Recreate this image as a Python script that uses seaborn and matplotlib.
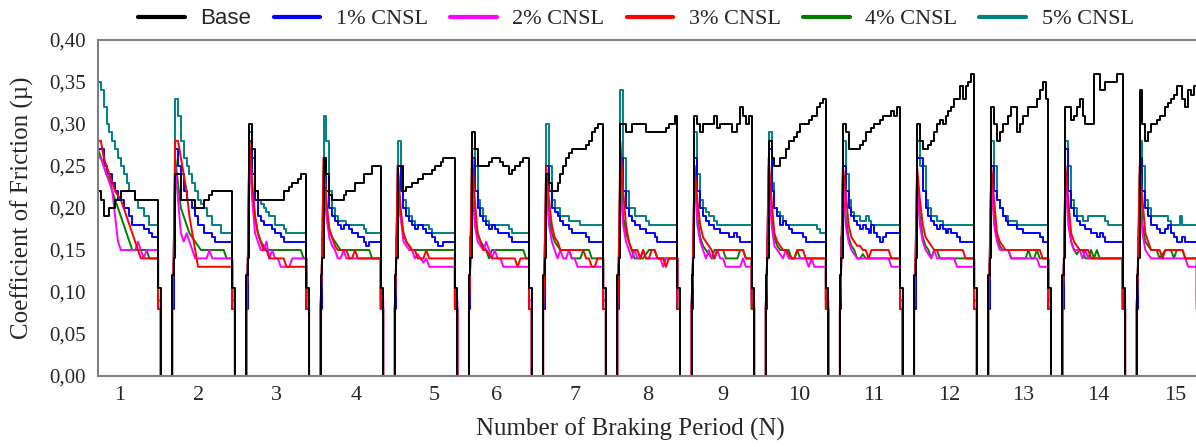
import numpy as np
import matplotlib
matplotlib.use("Agg")
import matplotlib.pyplot as plt
import seaborn as sns
from matplotlib.lines import Line2D

# ---------------- data ----------------
series_names = ["Base", "1% CNSL", "2% CNSL", "3% CNSL", "4% CNSL", "5% CNSL"]
period_labels = [str(i) for i in range(1, 16)]

base_vals = [
    [0.22,0.21,0.19,0.19,0.20,0.20,0.21,0.21,0.22,0.22,0.22,0.22,0.22,0.21,0.21,0.21,0.21,0.21,0.21,0.21],
    [0.24,0.24,0.21,0.21,0.21,0.21,0.21,0.20,0.20,0.20,0.21,0.21,0.215,0.22,0.22,0.22,0.22,0.22,0.22,0.22],
    [0.30,0.27,0.22,0.21,0.21,0.21,0.21,0.21,0.21,0.21,0.21,0.21,0.22,0.22,0.225,0.23,0.23,0.235,0.24,0.24],
    [0.26,0.24,0.215,0.21,0.21,0.21,0.21,0.215,0.22,0.22,0.22,0.23,0.23,0.23,0.24,0.24,0.24,0.25,0.25,0.25],
    [0.25,0.25,0.22,0.225,0.225,0.23,0.23,0.235,0.235,0.24,0.24,0.24,0.245,0.25,0.25,0.255,0.26,0.26,0.26,0.26],
    [0.29,0.27,0.25,0.25,0.25,0.25,0.255,0.26,0.26,0.26,0.255,0.25,0.25,0.24,0.245,0.25,0.25,0.255,0.26,0.26],
    [0.24,0.23,0.22,0.22,0.23,0.24,0.25,0.26,0.265,0.27,0.27,0.27,0.27,0.27,0.275,0.28,0.29,0.295,0.30,0.30],
    [0.30,0.30,0.29,0.29,0.30,0.30,0.30,0.30,0.30,0.29,0.29,0.29,0.29,0.29,0.29,0.29,0.295,0.30,0.30,0.31],
    [0.31,0.30,0.29,0.30,0.30,0.30,0.30,0.31,0.295,0.30,0.30,0.30,0.30,0.29,0.29,0.30,0.32,0.31,0.30,0.31],
    [0.28,0.26,0.25,0.25,0.26,0.26,0.27,0.28,0.28,0.285,0.29,0.30,0.30,0.30,0.305,0.31,0.31,0.32,0.325,0.33],
    [0.30,0.29,0.27,0.27,0.27,0.27,0.275,0.28,0.29,0.29,0.295,0.30,0.30,0.305,0.31,0.31,0.31,0.315,0.31,0.32],
    [0.30,0.28,0.27,0.27,0.275,0.28,0.29,0.30,0.305,0.30,0.31,0.315,0.32,0.33,0.33,0.345,0.33,0.345,0.35,0.36],
    [0.32,0.30,0.28,0.29,0.30,0.30,0.31,0.32,0.32,0.29,0.30,0.31,0.31,0.32,0.32,0.32,0.33,0.34,0.35,0.33],
    [0.32,0.32,0.305,0.31,0.32,0.33,0.31,0.30,0.30,0.30,0.36,0.36,0.34,0.34,0.35,0.35,0.35,0.35,0.36,0.36],
    [0.34,0.30,0.28,0.29,0.30,0.30,0.305,0.31,0.31,0.32,0.325,0.33,0.335,0.345,0.345,0.33,0.32,0.34,0.335,0.345],
]

cnsl1_vals = [
    [0.27,0.27,0.25,0.24,0.24,0.23,0.22,0.21,0.21,0.20,0.20,0.19,0.18,0.18,0.18,0.18,0.175,0.175,0.17,0.165],
    [0.27,0.25,0.24,0.22,0.21,0.21,0.20,0.19,0.18,0.18,0.17,0.17,0.17,0.165,0.16,0.16,0.16,0.16,0.16,0.16],
    [0.28,0.24,0.21,0.19,0.185,0.18,0.18,0.18,0.175,0.17,0.17,0.165,0.16,0.16,0.16,0.16,0.16,0.16,0.16,0.16],
    [0.26,0.22,0.20,0.19,0.185,0.18,0.175,0.18,0.18,0.175,0.17,0.17,0.165,0.165,0.16,0.155,0.16,0.16,0.16,0.16],
    [0.25,0.22,0.20,0.19,0.185,0.18,0.175,0.18,0.18,0.175,0.17,0.17,0.165,0.16,0.155,0.155,0.16,0.16,0.16,0.16],
    [0.26,0.22,0.20,0.19,0.185,0.18,0.175,0.18,0.175,0.17,0.17,0.17,0.17,0.165,0.16,0.16,0.16,0.16,0.16,0.16],
    [0.25,0.22,0.20,0.195,0.19,0.185,0.18,0.18,0.175,0.17,0.17,0.17,0.17,0.17,0.165,0.16,0.16,0.16,0.16,0.16],
    [0.26,0.22,0.20,0.19,0.185,0.18,0.18,0.175,0.175,0.17,0.17,0.17,0.165,0.16,0.16,0.16,0.16,0.16,0.16,0.16],
    [0.26,0.22,0.20,0.19,0.185,0.18,0.18,0.175,0.175,0.17,0.17,0.17,0.165,0.165,0.17,0.165,0.16,0.16,0.16,0.16],
    [0.27,0.22,0.20,0.19,0.18,0.185,0.18,0.175,0.17,0.17,0.17,0.17,0.165,0.16,0.16,0.16,0.16,0.16,0.16,0.16],
    [0.25,0.22,0.20,0.19,0.185,0.18,0.175,0.18,0.175,0.17,0.18,0.17,0.165,0.16,0.165,0.17,0.17,0.17,0.17,0.17],
    [0.26,0.26,0.22,0.20,0.19,0.185,0.18,0.175,0.18,0.175,0.17,0.175,0.17,0.17,0.165,0.16,0.16,0.16,0.16,0.16],
    [0.25,0.22,0.21,0.20,0.19,0.185,0.18,0.18,0.18,0.175,0.175,0.17,0.17,0.17,0.17,0.17,0.17,0.165,0.16,0.16],
    [0.27,0.22,0.20,0.19,0.185,0.18,0.18,0.175,0.175,0.17,0.17,0.165,0.17,0.165,0.16,0.16,0.16,0.16,0.16,0.16],
    [0.26,0.22,0.20,0.19,0.18,0.18,0.175,0.17,0.17,0.175,0.18,0.17,0.165,0.16,0.16,0.165,0.16,0.16,0.16,0.16],
]

cnsl2_vals = [
    [0.26,0.26,0.25,0.24,0.23,0.22,0.19,0.16,0.15,0.15,0.15,0.15,0.15,0.15,0.16,0.15,0.14,0.15,0.15,0.15],
    [0.25,0.21,0.17,0.16,0.17,0.16,0.15,0.14,0.14,0.14,0.14,0.14,0.15,0.14,0.14,0.14,0.14,0.14,0.14,0.14],
    [0.27,0.21,0.17,0.16,0.15,0.15,0.16,0.14,0.15,0.14,0.14,0.13,0.13,0.13,0.13,0.14,0.14,0.14,0.14,0.14],
    [0.24,0.19,0.165,0.155,0.15,0.14,0.14,0.15,0.14,0.14,0.14,0.14,0.14,0.14,0.14,0.14,0.14,0.14,0.14,0.14],
    [0.24,0.19,0.16,0.155,0.15,0.15,0.14,0.145,0.14,0.135,0.14,0.13,0.13,0.13,0.13,0.13,0.13,0.13,0.13,0.13],
    [0.24,0.18,0.16,0.155,0.15,0.16,0.15,0.14,0.15,0.14,0.14,0.13,0.13,0.13,0.13,0.13,0.13,0.13,0.13,0.13],
    [0.23,0.18,0.16,0.15,0.14,0.15,0.14,0.14,0.15,0.14,0.14,0.13,0.13,0.13,0.13,0.13,0.13,0.13,0.13,0.13],
    [0.23,0.18,0.16,0.15,0.14,0.15,0.14,0.14,0.15,0.14,0.14,0.14,0.14,0.14,0.14,0.13,0.14,0.14,0.14,0.14],
    [0.24,0.18,0.16,0.15,0.14,0.15,0.14,0.14,0.15,0.14,0.14,0.13,0.13,0.13,0.13,0.13,0.13,0.14,0.13,0.13],
    [0.24,0.18,0.155,0.15,0.145,0.14,0.15,0.14,0.14,0.14,0.14,0.14,0.14,0.14,0.13,0.14,0.13,0.13,0.13,0.13],
    [0.24,0.18,0.16,0.15,0.145,0.14,0.14,0.14,0.14,0.14,0.14,0.14,0.14,0.14,0.14,0.14,0.14,0.13,0.13,0.13],
    [0.23,0.18,0.16,0.15,0.145,0.14,0.15,0.14,0.14,0.14,0.14,0.14,0.14,0.14,0.13,0.13,0.13,0.13,0.13,0.13],
    [0.24,0.18,0.16,0.15,0.15,0.15,0.15,0.14,0.14,0.14,0.14,0.14,0.14,0.14,0.14,0.14,0.14,0.13,0.13,0.13],
    [0.24,0.18,0.16,0.15,0.15,0.15,0.14,0.15,0.14,0.14,0.14,0.14,0.14,0.14,0.14,0.14,0.14,0.14,0.14,0.14],
    [0.22,0.17,0.15,0.145,0.14,0.14,0.14,0.14,0.14,0.14,0.14,0.14,0.14,0.14,0.14,0.14,0.14,0.13,0.13,0.13],
]

cnsl3_vals = [
    [0.28,0.28,0.26,0.25,0.24,0.23,0.22,0.215,0.21,0.20,0.19,0.18,0.17,0.16,0.15,0.14,0.14,0.14,0.14,0.14],
    [0.28,0.28,0.26,0.24,0.22,0.19,0.17,0.15,0.13,0.13,0.13,0.13,0.13,0.13,0.13,0.13,0.13,0.13,0.13,0.13],
    [0.28,0.23,0.19,0.17,0.16,0.15,0.15,0.14,0.14,0.14,0.14,0.14,0.14,0.13,0.13,0.13,0.13,0.13,0.13,0.13],
    [0.26,0.21,0.175,0.165,0.155,0.15,0.15,0.15,0.15,0.14,0.14,0.15,0.14,0.14,0.14,0.14,0.14,0.14,0.14,0.14],
    [0.25,0.20,0.17,0.16,0.155,0.15,0.15,0.14,0.14,0.14,0.15,0.14,0.14,0.14,0.14,0.14,0.14,0.14,0.14,0.14],
    [0.27,0.21,0.17,0.16,0.15,0.15,0.145,0.14,0.14,0.14,0.14,0.14,0.14,0.14,0.14,0.14,0.13,0.14,0.14,0.14],
    [0.25,0.21,0.18,0.165,0.16,0.15,0.15,0.15,0.15,0.15,0.15,0.15,0.15,0.15,0.14,0.14,0.13,0.13,0.14,0.14],
    [0.28,0.22,0.18,0.16,0.15,0.15,0.15,0.14,0.15,0.14,0.14,0.15,0.15,0.14,0.14,0.14,0.13,0.14,0.14,0.14],
    [0.25,0.21,0.18,0.165,0.16,0.155,0.15,0.14,0.15,0.15,0.15,0.15,0.15,0.15,0.15,0.15,0.15,0.15,0.14,0.14],
    [0.26,0.21,0.17,0.16,0.155,0.15,0.15,0.145,0.14,0.14,0.15,0.15,0.15,0.14,0.14,0.14,0.14,0.14,0.14,0.14],
    [0.25,0.22,0.18,0.165,0.16,0.155,0.155,0.15,0.15,0.14,0.15,0.15,0.15,0.15,0.15,0.15,0.15,0.14,0.14,0.14],
    [0.25,0.21,0.18,0.165,0.16,0.155,0.15,0.15,0.15,0.15,0.15,0.15,0.15,0.15,0.15,0.15,0.15,0.14,0.14,0.14],
    [0.25,0.21,0.17,0.16,0.155,0.15,0.15,0.15,0.15,0.15,0.15,0.15,0.15,0.15,0.15,0.15,0.15,0.15,0.14,0.14],
    [0.25,0.21,0.17,0.16,0.155,0.15,0.15,0.15,0.15,0.14,0.14,0.14,0.14,0.14,0.14,0.14,0.14,0.14,0.14,0.14],
    [0.25,0.21,0.17,0.16,0.15,0.15,0.15,0.15,0.14,0.15,0.15,0.15,0.15,0.15,0.15,0.15,0.14,0.14,0.14,0.14],
]

cnsl4_vals = [
    [0.27,0.26,0.25,0.24,0.235,0.22,0.21,0.20,0.19,0.18,0.17,0.16,0.15,0.15,0.15,0.15,0.15,0.15,0.14,0.14],
    [0.26,0.23,0.20,0.19,0.18,0.17,0.165,0.16,0.155,0.15,0.15,0.15,0.15,0.15,0.15,0.15,0.15,0.15,0.14,0.14],
    [0.28,0.22,0.19,0.17,0.16,0.155,0.15,0.15,0.15,0.15,0.15,0.15,0.15,0.15,0.15,0.15,0.15,0.15,0.15,0.14],
    [0.25,0.20,0.175,0.165,0.16,0.155,0.15,0.15,0.15,0.15,0.15,0.15,0.15,0.15,0.15,0.15,0.15,0.14,0.14,0.14],
    [0.25,0.19,0.17,0.16,0.155,0.15,0.15,0.15,0.15,0.15,0.15,0.15,0.15,0.15,0.15,0.15,0.15,0.15,0.15,0.15],
    [0.25,0.19,0.17,0.16,0.155,0.15,0.14,0.15,0.15,0.15,0.15,0.15,0.15,0.15,0.15,0.15,0.15,0.15,0.15,0.14],
    [0.24,0.19,0.17,0.16,0.155,0.15,0.15,0.15,0.15,0.14,0.14,0.14,0.14,0.15,0.15,0.15,0.14,0.14,0.14,0.14],
    [0.25,0.19,0.17,0.16,0.15,0.14,0.14,0.14,0.14,0.145,0.15,0.15,0.15,0.14,0.14,0.14,0.14,0.14,0.14,0.14],
    [0.25,0.19,0.165,0.155,0.15,0.145,0.14,0.15,0.15,0.15,0.15,0.14,0.14,0.14,0.14,0.14,0.15,0.15,0.14,0.14],
    [0.25,0.19,0.165,0.155,0.15,0.15,0.15,0.15,0.14,0.14,0.15,0.14,0.14,0.14,0.14,0.14,0.14,0.14,0.14,0.14],
    [0.24,0.19,0.165,0.155,0.15,0.14,0.14,0.145,0.14,0.14,0.14,0.14,0.14,0.14,0.14,0.14,0.14,0.14,0.14,0.14],
    [0.24,0.19,0.165,0.155,0.15,0.14,0.15,0.15,0.14,0.14,0.14,0.14,0.14,0.14,0.14,0.14,0.14,0.14,0.14,0.14],
    [0.24,0.19,0.165,0.155,0.15,0.15,0.15,0.14,0.14,0.14,0.14,0.14,0.14,0.15,0.14,0.14,0.15,0.14,0.14,0.14],
    [0.23,0.19,0.16,0.15,0.145,0.15,0.15,0.14,0.14,0.15,0.14,0.15,0.14,0.14,0.14,0.14,0.14,0.14,0.14,0.14],
    [0.24,0.18,0.16,0.155,0.15,0.15,0.15,0.14,0.145,0.15,0.15,0.15,0.14,0.15,0.15,0.15,0.14,0.14,0.14,0.14],
]

cnsl5_vals = [
    [0.35,0.34,0.32,0.30,0.29,0.28,0.27,0.26,0.25,0.24,0.23,0.22,0.22,0.21,0.20,0.20,0.19,0.19,0.18,0.18],
    [0.33,0.31,0.28,0.26,0.25,0.24,0.23,0.22,0.21,0.205,0.20,0.19,0.19,0.18,0.18,0.18,0.17,0.17,0.17,0.17],
    [0.29,0.26,0.22,0.21,0.205,0.20,0.195,0.19,0.19,0.18,0.18,0.18,0.175,0.17,0.17,0.17,0.17,0.17,0.17,0.17],
    [0.31,0.28,0.22,0.20,0.19,0.185,0.185,0.185,0.18,0.18,0.18,0.18,0.18,0.18,0.175,0.17,0.17,0.17,0.17,0.17],
    [0.28,0.24,0.21,0.20,0.19,0.185,0.18,0.18,0.18,0.18,0.18,0.175,0.17,0.17,0.17,0.17,0.17,0.17,0.17,0.17],
    [0.27,0.25,0.21,0.20,0.19,0.185,0.18,0.18,0.18,0.18,0.18,0.18,0.18,0.175,0.17,0.17,0.17,0.17,0.17,0.17],
    [0.30,0.25,0.21,0.20,0.20,0.19,0.19,0.19,0.185,0.185,0.185,0.185,0.18,0.18,0.18,0.18,0.18,0.18,0.18,0.18],
    [0.34,0.26,0.22,0.20,0.20,0.19,0.19,0.19,0.19,0.185,0.18,0.18,0.18,0.18,0.18,0.18,0.18,0.18,0.18,0.18],
    [0.29,0.24,0.21,0.20,0.195,0.19,0.19,0.185,0.18,0.18,0.18,0.18,0.18,0.18,0.18,0.18,0.18,0.18,0.18,0.18],
    [0.29,0.23,0.20,0.195,0.19,0.185,0.18,0.18,0.18,0.18,0.18,0.18,0.18,0.18,0.18,0.18,0.18,0.175,0.17,0.17],
    [0.28,0.24,0.21,0.195,0.19,0.19,0.185,0.185,0.19,0.185,0.18,0.18,0.18,0.18,0.18,0.18,0.18,0.18,0.18,0.18],
    [0.28,0.25,0.25,0.21,0.20,0.19,0.19,0.185,0.185,0.18,0.18,0.18,0.18,0.18,0.18,0.18,0.18,0.18,0.18,0.18],
    [0.28,0.25,0.21,0.20,0.19,0.19,0.185,0.185,0.185,0.18,0.18,0.18,0.18,0.18,0.18,0.18,0.18,0.18,0.18,0.18],
    [0.28,0.25,0.21,0.20,0.19,0.19,0.185,0.185,0.19,0.19,0.19,0.19,0.19,0.19,0.185,0.18,0.18,0.18,0.18,0.18],
    [0.28,0.25,0.21,0.20,0.19,0.19,0.19,0.19,0.19,0.19,0.185,0.18,0.18,0.18,0.19,0.18,0.18,0.18,0.18,0.18],
]

# short rise at the start of each period and the fall at its end
ramp_vals = {"Base": [0.12, 0.14], "1% CNSL": [0.08, 0.15], "2% CNSL": [0.08, 0.14],
             "3% CNSL": [0.08, 0.14], "4% CNSL": [0.08, 0.14], "5% CNSL": [0.10, 0.165]}
drop_vals = {"Base": 0.105, "1% CNSL": 0.08, "2% CNSL": 0.09,
             "3% CNSL": 0.08, "4% CNSL": 0.08, "5% CNSL": 0.08}

y_ticks = [0.00, 0.05, 0.10, 0.15, 0.20, 0.25, 0.30, 0.35, 0.40]

# ---------------- layout / style ----------------
colors = {"Base": "#000000", "1% CNSL": "#0000FF", "2% CNSL": "#FF00FF",
          "3% CNSL": "#FF0000", "4% CNSL": "#008000", "5% CNSL": "#008080"}
stepped = {"Base": True, "1% CNSL": True, "5% CNSL": True,
           "2% CNSL": False, "3% CNSL": False, "4% CNSL": False}
values = {"Base": base_vals, "1% CNSL": cnsl1_vals, "2% CNSL": cnsl2_vals,
          "3% CNSL": cnsl3_vals, "4% CNSL": cnsl4_vals, "5% CNSL": cnsl5_vals}

x0 = 0.7                       # start of the first period on the x scale
step = 0.0385                  # spacing of readings inside one period
main_off, drop_off, zero_off = 0.04, 0.81, 0.845
tick_pos = [0.99, 2.05, 3.11, 4.18, 5.23, 6.07, 7.13, 8.115, 9.12, 10.15,
            11.16, 12.17, 13.17, 14.18, 15.22]


def build(name):
    xs, ys = [], []
    r1, r2 = ramp_vals[name]
    d = drop_vals[name]
    for k, pv in enumerate(values[name]):
        s = x0 + k
        n = len(pv)
        if k == 0:
            mx = s + np.arange(n) * step
        else:
            xs += [s, s, s + 0.02]
            ys += [0.0, r1, r2]
            mx = s + main_off + np.arange(n) * step
        xs += list(mx)
        ys += list(pv)
        xs += [s + drop_off, s + drop_off, s + zero_off, s + zero_off, s + 1.0]
        ys += [pv[-1], d, d, 0.0, 0.0]
    return np.array(xs), np.array(ys)


sns.set_style("white")
plt.rcParams["font.family"] = ["Liberation Serif", "DejaVu Serif"]

fig = plt.figure(figsize=(11.96, 4.47), dpi=100)
ax = fig.add_axes([98 / 1196, 71 / 447, 1 - 98 / 1196, 336 / 447])

draw_order = ["5% CNSL", "1% CNSL", "4% CNSL", "2% CNSL", "3% CNSL", "Base"]
for name in draw_order:
    xs, ys = build(name)
    sns.lineplot(x=xs, y=ys, sort=False, estimator=None, ax=ax,
                 color=colors[name], lw=1.4,
                 drawstyle="steps-post" if stepped[name] else "default")

ax.set_xlim(0.7, 15.5)
ax.set_ylim(0.0, 0.40)
ax.set_yticks(y_ticks)
ax.set_yticklabels([f"{v:.2f}".replace(".", ",") for v in y_ticks], fontsize=15)
ax.set_xticks(tick_pos)
ax.set_xticklabels(period_labels, fontsize=16)
ax.tick_params(axis="x", length=0, pad=7)
ax.tick_params(axis="y", length=5, width=1.2, color="#808080", direction="out", pad=4)

for side in ["top", "left", "bottom"]:
    ax.spines[side].set_visible(True)
    ax.spines[side].set_color("#808080")
    ax.spines[side].set_linewidth(1.5)
ax.spines["right"].set_visible(False)
ax.grid(False)

ax.set_xlabel("Number of Braking Period (N)", fontsize=18)
ax.set_ylabel("Coefficient of Friction (µ)", fontsize=18)
ax.xaxis.set_label_coords(0.4845, -0.125)
ax.xaxis.label.set_va("top")
ax.yaxis.set_label_coords(-0.058, 0.5)

handles = [Line2D([0], [0], color=colors[n], lw=3) for n in series_names]
leg = fig.legend(handles, series_names, loc="center", ncol=6, frameon=False,
                 bbox_to_anchor=(636 / 1196, 1 - 19 / 447), fontsize=16,
                 handlelength=2.1, handletextpad=0.7, columnspacing=1.0,
                 borderaxespad=0, borderpad=0)
leg.get_texts()[0].set_family(["Liberation Sans", "DejaVu Sans"])

fig.savefig("out.png", dpi=100)
